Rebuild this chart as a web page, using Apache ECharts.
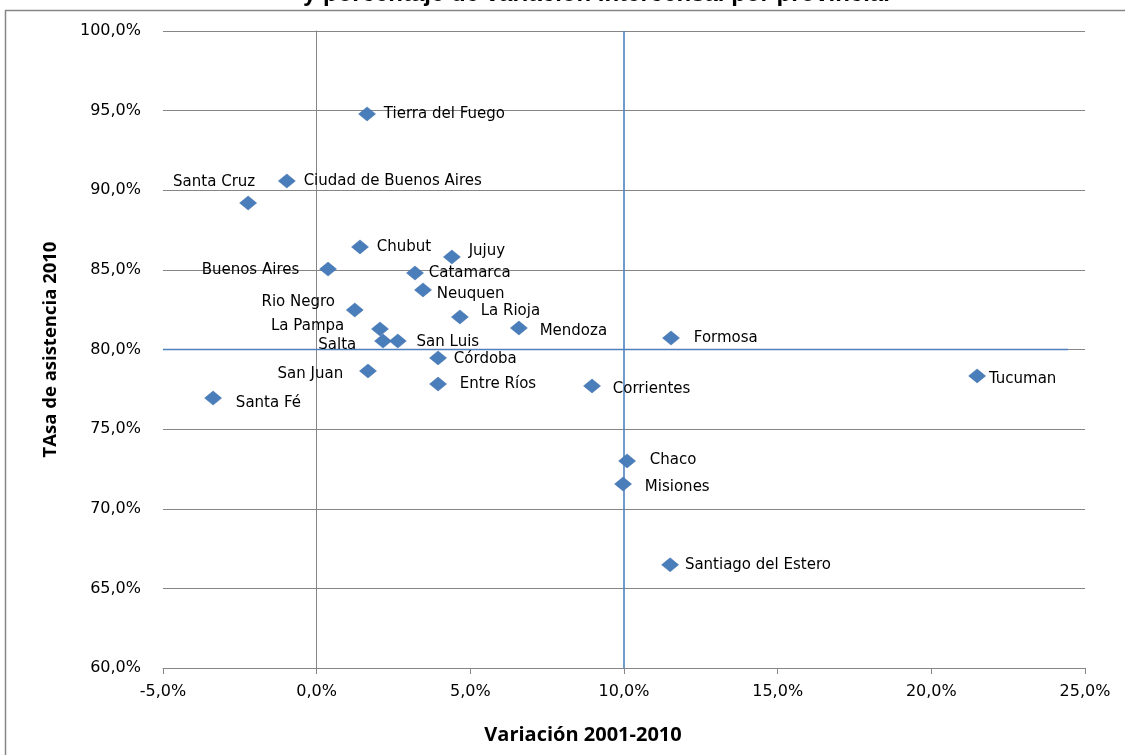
<!DOCTYPE html>
<html>
<head>
<meta charset="utf-8">
<script src="https://cdn.jsdelivr.net/npm/echarts@6/dist/echarts.min.js"></script>
<style>html,body{margin:0;padding:0;background:#fff}#c{width:1125px;height:755px}</style>
</head>
<body>
<div id="c"></div>
<script>
// ---- data ----
var provinces = ["Tierra del Fuego","Ciudad de Buenos Aires","Santa Cruz","Chubut","Jujuy","Buenos Aires","Catamarca","Neuquen","Rio Negro","La Rioja","Mendoza","La Pampa","Salta","San Luis","Formosa","Córdoba","San Juan","Entre Ríos","Corrientes","Tucuman","Santa Fé","Chaco","Misiones","Santiago del Estero"];
var variacion = [1.64,-0.97,-2.23,1.41,4.40,0.37,3.20,3.46,1.24,4.66,6.58,2.06,2.16,2.64,11.53,3.95,1.67,3.95,8.96,21.49,-3.37,10.10,9.97,11.50];
var asistencia = [94.79,90.58,89.20,86.44,85.81,85.05,84.80,83.74,82.48,82.04,81.35,81.29,80.53,80.53,80.72,79.47,78.65,77.83,77.71,78.34,76.95,73.00,71.55,66.48];
var xTicks = [-5,0,5,10,15,20,25];
var yTicks = [60,65,70,75,80,85,90,95,100];
var refVertical = [[10,60],[10,100]];
var refHorizontal = [[-5,80],[24.45,80]];
var titleText = "y porcentaje de variación intercensal por provincial";
var xName = "Variación 2001-2010";
var yName = "TAsa de asistencia 2010";

// ---- label placement (style only) ----
var labelPlace = {
 "Santa Cruz":{position:"top",offset:[-34,-1]},
 "Buenos Aires":{position:"left",distance:20,offset:[0,1]},
 "Rio Negro":{position:"left",distance:11,offset:[0,-8]},
 "La Pampa":{position:"left",distance:27,offset:[0,-3]},
 "Salta":{position:"left",distance:18,offset:[0,4]},
 "San Juan":{position:"left",distance:16,offset:[0,3]},
 "Jujuy":{position:"right",distance:8,offset:[0,-6]},
 "Catamarca":{position:"right",distance:5,offset:[0,0]},
 "Neuquen":{position:"right",distance:5,offset:[0,4]},
 "La Rioja":{position:"right",distance:12,offset:[0,-6]},
 "Mendoza":{position:"right",distance:12,offset:[0,3]},
 "San Luis":{position:"right",distance:10,offset:[0,1]},
 "Formosa":{position:"right",distance:14,offset:[0,0]},
 "Córdoba":{position:"right",distance:7,offset:[0,1]},
 "Entre Ríos":{position:"right",distance:13,offset:[0,0]},
 "Corrientes":{position:"right",distance:12,offset:[0,3]},
 "Tucuman":{position:"right",distance:3,offset:[0,3]},
 "Santa Fé":{position:"right",distance:14,offset:[0,5]},
 "Chaco":{position:"right",distance:14,offset:[0,-1]},
 "Misiones":{position:"right",distance:13,offset:[0,3]},
 "Santiago del Estero":{position:"right",distance:6,offset:[0,0]}
};

function pct(v){ return v.toFixed(1).replace('.', ',') + '%'; }

var points = provinces.map(function(n,i){
  var lp = labelPlace[n] || {position:"right",distance:8,offset:[0,0]};
  return {
    name:n, value:[variacion[i], asistencia[i]],
    label:{show:true, formatter:n, position:lp.position, distance:(lp.distance==null?5:lp.distance), offset:lp.offset}
  };
});

var chart = echarts.init(document.getElementById('c'), null, {renderer:'canvas'});
var blue = '#4F81BD';
var gray = '#868686';
chart.setOption({
  animation:false,
  backgroundColor:'#fff',
  title:{text:titleText, left:298, top:-23, textStyle:{fontFamily:'Liberation Sans', fontWeight:'bold', fontSize:24, color:'#000'}},
  graphic:[
    {type:'line', shape:{x1:5,y1:10.5,x2:1125,y2:10.5}, style:{stroke:gray,lineWidth:1.5}, z:10},
    {type:'line', shape:{x1:5.5,y1:10,x2:5.5,y2:755}, style:{stroke:gray,lineWidth:1.5}, z:10}
  ],
  grid:{left:163, right:40, top:31, bottom:87},
  xAxis:{
    type:'value', min:xTicks[0], max:xTicks[xTicks.length-1], interval:5,
    name:xName, nameLocation:'middle', nameGap:57,
    nameTextStyle:{fontFamily:'Open Sans', fontWeight:'bold', fontSize:20, color:'#000', padding:[0,82,0,0]},
    axisLine:{lineStyle:{color:gray,width:1}},
    axisTick:{show:true,length:6,lineStyle:{color:gray}},
    splitLine:{show:false},
    axisLabel:{formatter:pct, margin:16, fontFamily:'DejaVu Sans', fontSize:16, color:'#000'}
  },
  yAxis:{
    type:'value', min:yTicks[0], max:yTicks[yTicks.length-1], interval:5,
    name:yName, nameLocation:'middle', nameGap:103, nameRotate:90,
    nameTextStyle:{fontFamily:'Open Sans', fontWeight:'bold', fontSize:18.5, color:'#000'},
    axisLine:{show:true,lineStyle:{color:gray,width:1}},
    axisTick:{show:true,length:6,lineStyle:{color:gray}},
    splitLine:{show:true,lineStyle:{color:gray,width:1}},
    axisLabel:{formatter:pct, margin:22, fontFamily:'DejaVu Sans', fontSize:16, color:'#000'}
  },
  series:[
    {type:'line', data:refVertical, symbol:'none', lineStyle:{color:blue,width:1.6}, silent:true, z:3},
    {type:'line', data:refHorizontal, symbol:'none', lineStyle:{color:blue,width:1.6}, silent:true, z:3},
    {type:'scatter', data:points, symbol:'diamond', symbolSize:[17,14],
     itemStyle:{color:'#4A7EBB', borderColor:'#3E6DA6', borderWidth:0.5, opacity:1},
     label:{color:'#000', fontFamily:'DejaVu Sans', fontSize:15},
     z:5}
  ]
});
</script>
</body>
</html>
